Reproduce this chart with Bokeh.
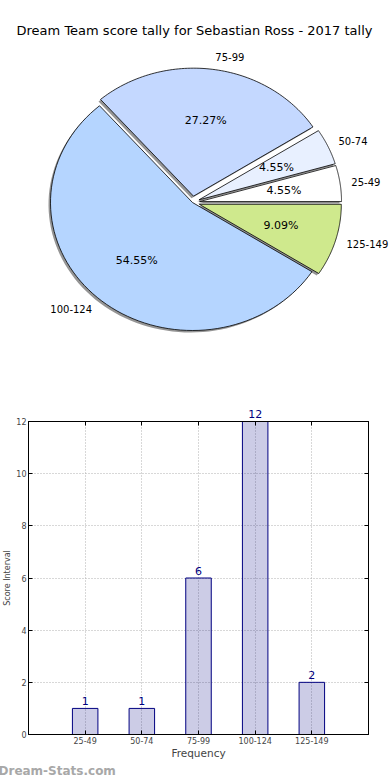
import numpy as np
from bokeh.plotting import figure
from bokeh.models import (Range1d, ColumnDataSource, LabelSet, Label, Title,
                          FixedTicker, LinearAxis)
from bokeh.core.properties import value
from bokeh.embed import file_html
from bokeh.resources import INLINE

# ---------------- data ----------------
title_text = "Dream Team score tally for Sebastian Ross - 2017 tally"
categories = ["25-49", "50-74", "75-99", "100-124", "125-149"]
counts = [1, 1, 6, 12, 2]
pie_colors = ["#ffffff", "#e8f0ff", "#c4d8ff", "#b5d5ff", "#cfe98d"]
explode = [0.05, 0.05, 0.05, 0.0, 0.05]
y_ticks = [0, 2, 4, 6, 8, 10, 12]
x_label = "Frequency"
y_label = "Score Interval"
watermark = "Dream-Stats.com"

FONT = "DejaVu Sans"

# ---------------- pie ----------------
W, H1 = 390, 378
CX, CY = 192, 202   # pie centre in figure pixels (from top-left)
RX, RY = 142, 128   # radii in pixels (matplotlib non-equal aspect)

pie = figure(frame_width=W, frame_height=H1, output_backend="svg", toolbar_location=None,
             x_range=Range1d(-CX / RX, (W - CX) / RX),
             y_range=Range1d(-(H1 - CY) / RY, CY / RY),
             min_border=0, tools="", x_axis_location=None, y_axis_location=None)
pie.grid.visible = False
pie.outline_line_color = None

total = float(sum(counts))
fracs = [c / total for c in counts]
starts = np.concatenate([[0.0], np.cumsum(fracs)[:-1]]) * 2 * np.pi
ends = np.cumsum(fracs) * 2 * np.pi

sx, sy = -2.0 / RX, -2.0 / RY  # shadow offset

wx, wy, shx, shy = [], [], [], []
lab_x, lab_y, lab_t, lab_align = [], [], [], []
pct_x, pct_y, pct_t = [], [], []
for i in range(len(counts)):
    mid = 0.5 * (starts[i] + ends[i])
    ox, oy = explode[i] * np.cos(mid), explode[i] * np.sin(mid)
    th = np.linspace(starts[i], ends[i], 80)
    px = np.concatenate([[ox], ox + np.cos(th), [ox]])
    py = np.concatenate([[oy], oy + np.sin(th), [oy]])
    wx.append(list(px)); wy.append(list(py))
    shx.append(list(px + sx)); shy.append(list(py + sy))
    lx, ly = ox + 1.08 * np.cos(mid), oy + 1.1 * np.sin(mid)
    lab_x.append(lx); lab_y.append(ly); lab_t.append(categories[i])
    lab_align.append("left" if lx > 0 else "right")
    pct_x.append(ox + 0.6 * np.cos(mid)); pct_y.append(oy + 0.6 * np.sin(mid))
    pct_t.append("%.2f%%" % (100 * fracs[i]))

pie.patches(shx, shy, fill_color="#7a7a7a", fill_alpha=0.8, line_color=None)
pie.patches(wx, wy, fill_color=pie_colors, line_color="black", line_width=0.8)

lab_src = ColumnDataSource(dict(x=lab_x, y=lab_y, t=lab_t, a=lab_align))
pie.text(x="x", y="y", text="t", source=lab_src, text_align="a",
         text_baseline="middle", text_font=value(FONT),
         text_font_size="10px", text_color="black")
pct_src = ColumnDataSource(dict(x=pct_x, y=pct_y, t=pct_t))
pie.text(x="x", y="y", text="t", source=pct_src, text_align="center",
         text_baseline="middle", text_font=value(FONT),
         text_font_size="11px", text_color="black")

pie.add_layout(Label(x=194, y=H1 - 30, x_units="screen", y_units="screen",
                     text=title_text, text_align="center", text_baseline="middle",
                     text_font=FONT, text_font_size="13px", text_color="black"))

# ---------------- bar ----------------
n = len(categories)
xpos = [i + 1 for i in range(n)]
bar = figure(frame_width=340, frame_height=313, output_backend="svg", toolbar_location=None,
             x_range=Range1d(0, n + 1), y_range=Range1d(0, 12), tools="",
             min_border_left=0, min_border_right=20, min_border_top=43,
             min_border_bottom=0)
bar.outline_line_color = "black"
bar.outline_line_width = 1

src = ColumnDataSource(dict(x=xpos, y=counts, t=[str(c) for c in counts]))
bar.grid.grid_line_color = "#b0b0b0"
bar.grid.grid_line_dash = "1 2"
bar.grid.grid_line_width = 1
bar.ygrid.ticker = FixedTicker(ticks=y_ticks)
bar.xgrid.ticker = FixedTicker(ticks=xpos)
bar.vbar(x="x", top="y", width=0.45, source=src, fill_color="navy",
         fill_alpha=0.2, line_color="navy", line_width=1)

inside = [i for i, c in enumerate(counts) if c < y_ticks[-1]]
in_src = ColumnDataSource(dict(x=[xpos[i] for i in inside],
                               y=[counts[i] for i in inside],
                               t=[str(counts[i]) for i in inside]))
bar.add_layout(LabelSet(x="x", y="y", text="t", source=in_src, text_align="center",
                        text_baseline="bottom", y_offset=3, text_font=value(FONT),
                        text_font_size=value("11px"), text_color="navy"))

for ax in bar.yaxis:
    ax.ticker = FixedTicker(ticks=y_ticks)
    ax.major_tick_in = 4
    ax.major_tick_out = 0
    ax.minor_tick_line_color = None
    ax.major_label_standoff = 2
    ax.major_label_text_font = FONT
    ax.major_label_text_font_size = "8px"
    ax.axis_line_color = "black"
    ax.axis_label = y_label
    ax.axis_label_text_font = FONT
    ax.axis_label_text_font_size = "8px"
    ax.axis_label_text_font_style = "normal"
    ax.axis_label_standoff = 1

for ax in bar.xaxis:
    ax.ticker = FixedTicker(ticks=xpos)
    ax.major_label_overrides = {p: c for p, c in zip(xpos, categories)}
    ax.major_tick_in = 4
    ax.major_tick_out = 0
    ax.minor_tick_line_color = None
    ax.major_label_standoff = 2
    ax.major_label_text_font = FONT
    ax.major_label_text_font_size = "8px"
    ax.axis_label = x_label
    ax.axis_label_text_font = FONT
    ax.axis_label_text_font_size = "10.5px"
    ax.axis_label_text_font_style = "normal"
    ax.axis_label_standoff = 0
    ax.axis_line_color = "black"

rax = LinearAxis(ticker=FixedTicker(ticks=y_ticks), major_tick_in=4, major_tick_out=0,
                 minor_tick_line_color=None, major_label_standoff=0,
                 major_label_overrides={t: "" for t in y_ticks})
bar.add_layout(rax, "right")

# top axis: inward ticks at categories; shows value label of the bar that reaches the top
top_over = {p: (str(c) if c >= y_ticks[-1] else "") for p, c in zip(xpos, counts)}
tax = LinearAxis(ticker=FixedTicker(ticks=xpos),
                 major_tick_in=4, major_tick_out=0, minor_tick_line_color=None,
                 major_label_standoff=4, major_label_overrides=top_over,
                 major_label_text_font=FONT, major_label_text_font_size="11px",
                 major_label_text_color="navy")
bar.add_layout(tax, "above")

bar.add_layout(Title(text=watermark, align="left", offset=-30, standoff=0,
                     text_font=FONT, text_font_size="12px", text_font_style="bold",
                     text_color="#a8a8a8"), "below")

open("out.html", "w").write(file_html([pie, bar], INLINE))
